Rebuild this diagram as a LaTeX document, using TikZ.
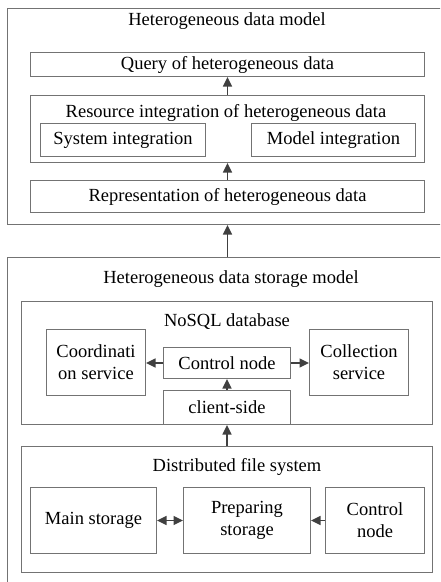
\documentclass[tikz,border=0pt]{standalone}
\usepackage{fontspec}
\setmainfont{Liberation Serif}
\usetikzlibrary{arrows.meta}
\begin{document}
\begin{tikzpicture}[x=1pt,y=-1pt,
  font=\fontsize{18.5}{22}\selectfont,
  box/.style={draw=black!55, line width=1pt, inner sep=0pt, anchor=north west, align=center},
  ttl/.style={inner sep=0pt, anchor=center},
  arr/.style={draw=black!75, line width=1.5pt, -{Triangle[length=9.5pt,width=9pt]}},
  darr/.style={draw=black!75, line width=1.5pt, {Triangle[length=9.5pt,width=9pt]}-{Triangle[length=9.5pt,width=9pt]}}]
\clip (0,0) rectangle (440,582);
% outer boxes
\node[box, minimum width=450pt, minimum height=216pt] (outer1) at (7,8) {};
\node[box, minimum width=450pt, minimum height=350pt] (outer2) at (7,257) {};
\node[ttl] (t1) at (227,21) {Heterogeneous data model};
\node[ttl] (t2) at (231,279) {Heterogeneous data storage model};
% top part
\node[box, minimum width=394pt, minimum height=24pt] (query) at (30,52) {Query of heterogeneous data};
\node[box, minimum width=394pt, minimum height=67pt] (res) at (30,95) {};
\node[ttl] (rest) at (226,113) {Resource integration of heterogeneous data};
\node[box, minimum width=165pt, minimum height=33pt] (sys) at (40,123) {System integration};
\node[box, minimum width=164pt, minimum height=33pt] (mod) at (251,123) {Model integration};
\node[box, minimum width=394pt, minimum height=32pt] (repr) at (30,180) {Representation of heterogeneous data};
% NoSQL
\node[box, minimum width=411pt, minimum height=123pt] (nosql) at (21,301) {};
\node[ttl] (nosqlt) at (227,322) {NoSQL database};
\node[box, minimum width=99pt, minimum height=66pt] (coord) at (46,329) {Coordinati\\on service};
\node[box, minimum width=127pt, minimum height=31pt] (ctrl) at (163,347) {Control node};
\node[box, minimum width=99pt, minimum height=66pt] (coll) at (309,329) {Collection\\service};
\node[box, minimum width=127pt, minimum height=34pt] (client) at (163,390) {client-side};
% DFS
\node[box, minimum width=411pt, minimum height=126pt] (dfs) at (21,446) {};
\node[ttl] (dfst) at (237,467) {Distributed file system};
\node[box, minimum width=126pt, minimum height=66pt] (main) at (30,487) {Main storage};
\node[box, minimum width=127pt, minimum height=66pt] (prep) at (183,487) {Preparing\\storage};
\node[box, minimum width=99pt, minimum height=66pt] (ctrl2) at (325,487) {Control\\node};
% arrows
\draw[arr] (repr.north) -- (res.south);
\draw[arr] (res.north) -- (query.south);
\draw[arr] (outer2.north -| repr.south) -- (outer1.south -| repr.south);
\draw[arr] (client.north) -- (ctrl.south);
\draw[arr] (ctrl.west) -- (coord.east |- ctrl.west);
\draw[arr] (ctrl.east) -- (coll.west |- ctrl.east);
\draw[arr] (dfs.north -| client.south) -- (client.south);
\draw[darr] (main.east) -- (prep.west);
\draw[arr] (ctrl2.west) -- (prep.east);
\end{tikzpicture}
\end{document}
